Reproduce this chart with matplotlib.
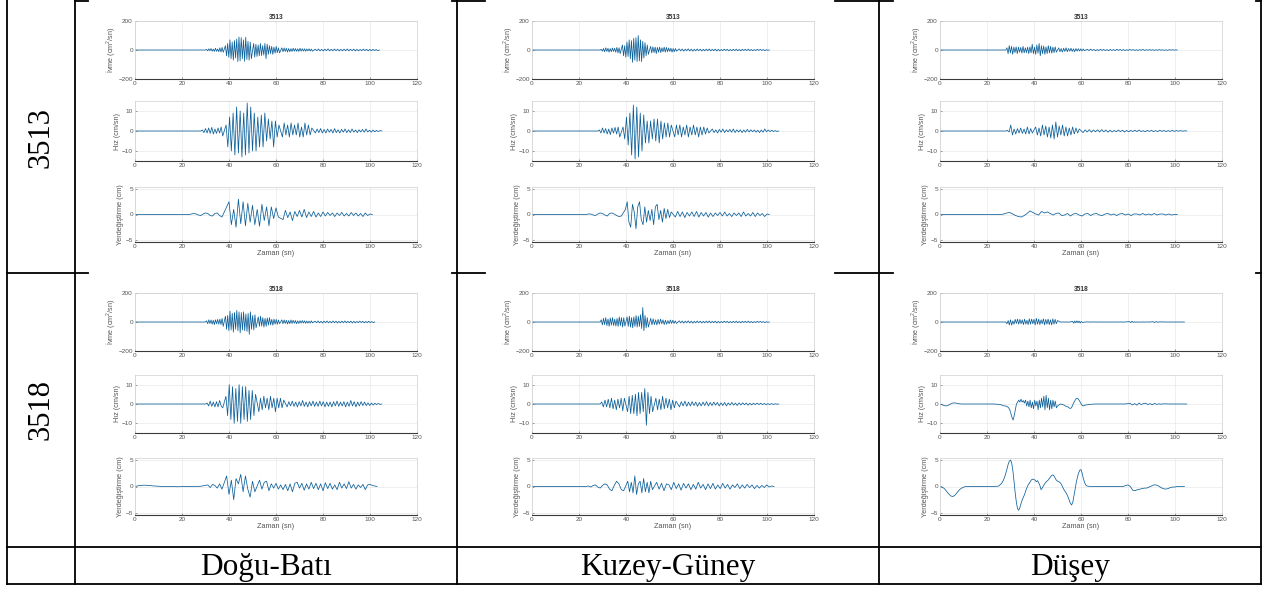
import matplotlib
matplotlib.use("Agg")
import matplotlib.pyplot as plt

plt.rcParams['font.family'] = ['Liberation Sans', 'DejaVu Sans']
plt.rcParams['mathtext.fontset'] = 'custom'
plt.rcParams['mathtext.rm'] = 'Liberation Sans'

# table labels
stations = ["3513", "3518"]
components = ["Doğu-Batı", "Kuzey-Güney", "Düşey"]
x_ticks = [0, 20, 40, 60, 80, 100, 120]
y_labels = ["İvme (cm$^2$/sn)", "Hız (cm/sn)", "Yerdeğiştirme (cm)"]
y_ticks = [[-200, 0, 200], [-10, 0, 10], [-5, 0, 5]]
y_lims = [200, 15, 5.4]

# each trace = list of (t_start, t_end, evenly spaced inside)
# ---------------- 3513 ----------------
acc_db_3513 = [
    (30, 38, [4,-6,8,-5,10,-8,6,-10,12,-9,7,-12,15,-14,18,-16]),
    (38, 50, [30,-40,45,-50,70,-60,55,-70,65,-55,75,-80,90,-75,85,-60,70,-78,88,-65,60,-70,55,-60]),
    (50, 62, [45,-50,40,-45,35,-40,45,-38,30,-35,45,-60,40,-30,30,-25,25,-30,20,-22,25,-18,15,-20]),
    (62, 76, [15,-12,14,-10,12,-14,10,-12,9,-10,12,-8,10,-9,8,-10,12,-8,9,-7,8,-9,7,-6,8,-7,6,-8]),
    (76, 104, [6,-5,7,-6,5,-7,6,-5,8,-6,5,-6,7,-5,6,-7,5,-6,6,-5,7,-6,5,-5,6,-7,5,-6,4,-5,6,-4,5,-6,4,-5,5,-4,3,-4]),
]
vel_db_3513 = [
    (28, 38, [0.5,-0.8,1.2,-1,1.5,-1.2,1.8,-1.5,1,-1.2,1.5,-1,2,-2.5]),
    (38, 62, [3,-8,7,-10,9,-12,12,-11,10,-13,9,-12,14,-11,12,-10,9,-10,7,-8,8,-8,9,-5,6,-4,5,-8,5,-3,3]),
    (62, 76, [-3,4,-2,3,-3,4,-2,3,-2,4,-3,2,-3,4,-2,3,-2,1.5]),
    (76, 105, [-1,1,-0.8,1.2,-1,0.8,-1,1,-0.6,0.8,-1,1.2,-0.8,0.6,-1,0.8,-0.6,1,-0.8,0.6,-0.8,1,-0.6,0.5,
               -0.8,0.6,-0.5,0.8,-0.6,1,-0.5,0.4,-0.6,0.5,-0.4,0.3,-0.3,0.2]),
]
disp_db_3513 = [
    (23, 38, [0.1,0.2,0.1,-0.1,-0.2,0.1,0.3,0.2,-0.2,-0.3,0.2,0.3,-0.2,-0.5]),
    (38, 62, [1.5,2.5,-2,1,-2.5,3,-1.8,2.5,-2.2,2.2,-1.5,1.8,-2,1,-2.3,2,-1.2,1.5,-2.2,1.5,-0.8,1.3,-0.5]),
    (62, 101, [-1,0.8,-0.6,0.5,-1.2,0.6,-0.4,0.8,-0.5,1,-0.6,0.5,-0.4,0.6,-0.5,0.3,-0.4,0.5,-0.3,0.4,-0.2,0.3,
               -0.4,0.3,-0.2,0.4,-0.3,0.2,-0.3,0.4,-0.2,0.3,-0.3,0.2,-0.4,0.3,-0.2,0.1]),
]
acc_kg_3513 = [
    (29, 38, [5,-8,10,-12,15,-10,12,-15,10,-12,14,-10,12,-15,18,-20,15,-25]),
    (38, 50, [35,-40,30,-50,55,-45,70,-60,65,-85,80,-70,85,-80,100,-75,70,-80,60,-55,50,-40,35,-30]),
    (50, 62, [25,-20,22,-18,20,-25,18,-15,20,-18,15,-12,20,-15,18,-12,14,-10,12,-15,10,-12,10,-8]),
    (62, 101, [8,-6,7,-8,6,-5,8,-7,6,-8,5,-6,7,-5,6,-7,5,-6,6,-5,7,-6,5,-5,6,-7,5,-6,4,-5,6,-4,5,-6,4,-5,
               5,-4,6,-5,4,-6,5,-4,5,-4,6,-5,4,-5,3,-4,5,-3,4,-3,3,-4,2,-2]),
]
vel_kg_3513 = [
    (28, 38, [0.5,-1,1.5,-1,1.2,-1.5,1,-1.8,1.5,-1,1.8,-1.5,2,-3]),
    (38, 60, [2,-4,7,-7,9,-12,13,-14,12,-13,9,-10,8,-6,5,-6,5,-4,6,-5,6,-6,5,-4,4,-3,4,-3,3]),
    (60, 76, [-3,3,-2,3,-3,2,-2,3,-3,2,-2,3,-2,2,-3,2,-2,2,-1.5,1.5,-1]),
    (76, 105, [1,-0.8,0.6,-1,0.8,-0.6,1,-0.8,0.6,-0.5,0.8,-0.6,1,-0.8,0.6,-0.5,0.6,-0.8,0.5,-0.6,0.8,-0.5,
               0.6,-0.4,0.5,-0.6,0.4,-0.8,0.5,-0.6,1,-0.4,0.5,-0.3,0.4,-0.3,0.2,-0.2]),
]
disp_kg_3513 = [
    (23, 39, [0.1,0.1,-0.1,-0.2,0.1,0.3,0.2,-0.1,-0.3,0.2,0.3,0.1,-0.2,-0.4,-0.3]),
    (39, 60, [1,2.5,-1.5,-2.5,2,0.5,-2.8,1.5,2.5,-1,-2,1.5,-1.5,0.8,-1.2,1,-2,1.5,2,-1,0.8,-1.5,1.2,-0.8,1,-0.6,0.5]),
    (60, 101, [-0.5,0.6,-0.4,0.5,-0.6,0.4,-0.3,0.5,-0.4,0.6,-0.5,0.4,-0.3,0.4,-0.5,0.3,-0.4,0.3,-0.2,0.4,
               -0.3,0.5,-0.3,0.2,-0.4,0.3,-0.2,0.3,-0.4,0.5,-0.3,0.2,-0.3,0.4,-0.4,0.3,-0.2,0.2,-0.4,0.1]),
]
acc_dy_3513 = [
    (28, 50, [15,-25,30,-20,25,-30,20,-18,22,-25,20,-15,18,-22,25,-20,15,-18,20,-25,22,-20,40,-25,20,-30,
              35,-22,45,-40,30,-25,28,-30,22,-25,30,-20,25,-22,20,-18,22,-15]),
    (50, 62, [15,-12,10,-14,12,-10,15,-12,10,-8,12,-10,8,-12,10,-8,9,-7,8,-6,7,-5]),
    (62, 101, [5,-4,6,-3,4,-5,3,-4,5,-3,4,-4,3,-5,4,-3,3,-4,5,-3,4,-3,3,-4,2,-3,4,-2,3,-3,2,-3,3,-2,4,-3,
               2,-2,3,-2,2,-3,2,-2,3,-2,2,-2,1,-2,2,-1,2,-1,1]),
]
vel_dy_3513 = [
    (28, 40, [0.3,-0.5,3,-2,1,-1.5,1.2,-1,1.5,-1.2,1,-1.5,2,-1.5,1.2,-1]),
    (40, 60, [2,-2,1.5,-2.5,3,-2,2.5,-3,2,-3.5,3,-4,4.5,-3,2.5,-2,3,-2.5,2,-2.5,1.5,-2,2,-1.5,1.5,-1,1]),
    (60, 105, [-0.8,0.6,-0.5,0.7,-0.6,0.5,-0.4,0.6,-0.5,0.7,-0.4,0.5,-0.6,0.4,-0.5,0.3,-0.4,0.5,-0.3,0.4,
               -0.5,0.3,-0.4,0.3,-0.3,0.4,-0.3,0.5,-0.3,0.2,-0.4,0.3,-0.2,0.3,-0.3,0.2,-0.3,0.4,-0.2,0.3,
               -0.3,0.2,-0.2,0.3,-0.2,0.2,-0.1,0.2,-0.1,0.1]),
]
disp_dy_3513 = [
    (26, 101, [0.1,0.3,0.4,0.1,-0.2,-0.4,-0.5,-0.2,0.2,0.7,0.4,0.1,-0.1,0.6,0.3,0.5,0.2,-0.1,0.2,0.3,
               -0.2,-0.1,0.2,-0.3,0.1,0.2,-0.1,-0.3,0.1,0.2,-0.2,0.1,0.2,-0.1,-0.2,0.1,0.2,-0.1,0.1,-0.2,
               0.1,0.2,-0.1,0.1,-0.2,0.1,0.1,-0.1,0.2,-0.1,0.1,-0.1,0.2,-0.1,0.1,0.1,-0.1,0.1,-0.1,0.0]),
]

# ---------------- 3518 ----------------
acc_db_3518 = [
    (30, 38, [8,-12,15,-10,14,-15,12,-18,15,-12,18,-15,20,-18,25,-30]),
    (38, 52, [40,-50,45,-60,75,-55,60,-70,65,-50,80,-60,70,-75,65,-55,70,-60,55,-65,60,-85,70,-50,45,-55,50,-40]),
    (52, 62, [35,-30,40,-28,30,-35,25,-30,28,-22,30,-20,18,-22,20,-15,18,-16,14,-12]),
    (62, 76, [15,-12,14,-10,12,-14,10,-12,14,-10,12,-8,10,-12,8,-10,9,-8,10,-7,8,-9,7,-8,6,-7,8,-6]),
    (76, 102, [6,-5,7,-6,5,-7,6,-5,7,-6,5,-6,7,-5,6,-7,5,-6,6,-5,7,-6,5,-5,6,-7,5,-6,4,-5,6,-4,5,-6,4,-5,5,-4,3,-4]),
]
vel_db_3518 = [
    (30, 38, [0.5,-1,1.5,-1.2,1,-1.5,1.2,-1.5,1.8,-1,-2]),
    (38, 52, [4,-6,10,-8,9,-10,8,-9,10,-10,9,-8,9,-9,7,-8,7,-6,5]),
    (52, 64, [-4,3,-3,4,-2,3,-3,4,-2,3,-4,3,-2,3,-2,2]),
    (64, 105, [-1.5,1.2,-1,1.5,-1.2,1,-1.5,1.2,-1,1.8,-1.2,1,-1.5,1.2,-1,1.5,-1.2,1,-1.2,1.5,-1,1.2,-1.5,1,
               -1.2,1,-1.5,1.2,-1,1.5,-1.2,1,-1,1.2,-1.5,1,-1.2,1.8,-1,1.2,-1.5,1,-1,1.2,-0.8,1,-0.8,0.6,
               -0.8,0.5,-0.5,0.4,-0.3,0.3,-0.2]),
]
disp_db_3518 = [
    (0, 30, [0.2,0.25,0.2,0.1,0.05,0,0,0,-0.05,0,0,0,0,0.05]),
    (30, 38, [0.3,-0.2,0.4,0.2,-0.3,0.5,-0.5]),
    (38, 52, [2,-1.5,1.2,-2.5,1.5,0.5,2.3,-1,2,-0.5,-2,1,-1]),
    (52, 103, [1.2,-0.5,0.8,1,-0.8,0.5,-0.3,0.6,-0.5,0.3,-0.6,0.4,-0.8,0.5,-1,0.6,0.8,-0.3,0.6,-0.7,0.5,-0.5,
               0.8,-0.4,0.6,-0.6,0.5,-0.8,0.7,-0.4,0.6,-0.5,0.3,-0.6,0.8,-0.3,0.5,-0.4,0.9,-0.3,0.4,-0.5,
               0.3,-0.2,0.4,-0.6,0.3,0.4,0.2,0.1]),
]
acc_kg_3518 = [
    (29, 40, [15,-20,25,-18,30,-25,20,-30,28,-22,30,-25,20,-28,25,-30,35,-25,30,-35,30,-28]),
    (40, 50, [35,-30,40,-35,30,-40,35,-30,45,-35,40,-30,50,-45,100,-60,45,-40,30,-35]),
    (50, 62, [25,-20,22,-18,15,-20,18,-15,20,-12,15,-18,12,-15,10,-12,14,-10,12,-10,8,-10]),
    (62, 101, [8,-6,7,-8,6,-5,8,-7,6,-8,5,-6,7,-5,6,-7,5,-6,6,-5,7,-6,5,-5,6,-7,5,-6,4,-5,6,-4,5,-6,4,-5,
               5,-4,6,-5,4,-6,5,-4,5,-4,6,-5,4,-5,3,-4,5,-3,4,-3,3,-4,2,-2]),
]
vel_kg_3518 = [
    (29, 40, [1,-1.5,2,-1.5,2.5,-2,3,-2.5,2,-3,2.5,-2,3,-3.5,3]),
    (40, 52, [-4,4,-5,4.5,-5,5,-6,6,-5,6,-4,8,-11,6,-5,4,-4]),
    (52, 62, [3,-3,2.5,-3,4,-2.5,3,-2,2.5,-3,2,-2,1.5]),
    (62, 105, [-1.5,1.2,-1,1.5,-1.2,1,-1,1.2,-0.8,1,-1.2,0.8,-1,1,-0.8,1.2,-1,0.8,-0.8,1,-0.6,0.8,-1,0.6,
               -0.8,0.8,-1,0.6,-0.6,0.8,-0.6,0.5,-0.8,0.6,-0.5,0.6,-0.4,0.5,-0.6,0.4,-0.5,0.4,-0.3,0.5,
               -0.3,0.4,-0.3,0.3,-0.4,0.2,-0.3,0.2,-0.2,0.1,-0.1]),
]
disp_kg_3518 = [
    (23, 40, [0.1,-0.1,0.2,0.3,-0.1,-0.3,0.2,0.5,0.3,-0.5,-0.8,0.2,1,0.5,-0.6,-0.8]),
    (40, 52, [1,-1,0.8,-1.2,2,-1.5,0.5,1,-1.2,1.5,-1,0.8,-1.2,1,-0.6]),
    (52, 103, [0.8,-0.5,0.6,-0.8,0.5,0.3,-0.6,0.8,-0.4,0.5,-0.7,0.6,-0.3,0.5,-0.6,0.4,-0.5,0.8,-0.3,0.4,
               -0.6,0.5,-0.4,0.6,-0.5,0.3,-0.4,0.6,-0.3,0.4,-0.5,0.3,-0.2,0.5,-0.4,0.3,-0.3,0.4,-0.2,0.3,
               -0.4,0.2,-0.3,0.2,-0.2,0.3,-0.1,0.1]),
]
acc_dy_3518 = [
    (28, 50.5, [-12,10,-20,15,-22,8,-15,18,-10,20,-15,18,-12,15,-18,20,-15,12,-18,22,-15,20,-12,18,-20,25,
                -15,20,-18,15,-12,22,-20,18,-15,20,-18,15,-20,22,-15,18,-12,10]),
    (50.5, 56, [1,-1,0.5,-0.5,0.5,-0.5,0.3,-0.3]),
    (56, 61, [5,-8,7,-6,8,-5,6,-7,4,-3]),
    (61, 80, [1,-0.5,0.5,-0.3,0.3,-0.3,0.2,-0.2,0.2,-0.2,0.2,-0.2]),
    (80, 85, [3,-4,5,-3,2,-2,1,-1]),
    (85, 90, [0.3,-0.3,0.3,-0.3]),
    (90, 94, [2,-3,3,-2,1]),
    (94, 104, [0.3,-0.3,0.2,-0.2,0.2,-0.1]),
]
vel_dy_3518 = [
    (0, 10, [-0.3,-0.8,-1,-0.8,-0.2,0.3,0.6,0.5,0.3,0.1,0]),
    (10, 25, [0,0,0,0,0]),
    (25, 33, [-0.2,-0.4,-0.6,-0.8,-1,-1,-1.2,-1.5,-2,-3,-5,-7,-8.3,-6,-3,0]),
    (33, 50.5, [2,1,2.5,1,1.8,0.5,2,-1,1.5,-1.5,2,-2,1,-2.5,2,-1,1.5,-3,2,-2,3,-1.5,4,-3,4.5,-2,3,-3,2,
                -2.5,2,-1.5,1.5,-2,-1]),
    (50.5, 54, [0,-0.2,-0.5,-1]),
    (54, 62, [-1.5,-2,-2.3,-2,-1,0.5,1.5,2.5,3,2.8,2,1,0,-0.8,-1,-0.6]),
    (62, 80, [-0.3,-0.1,0,0,0,0,0,0,0,0,0,0]),
    (80, 96, [0.3,-0.5,0.2,-0.6,0.5,-0.3,0.2,0.4,-0.3,0.2,-0.4,0.3,-0.2,0.1,-0.1,0.1]),
    (96, 105, [0,0,0,0]),
]
disp_dy_3518 = [
    (0, 12, [-0.1,-0.4,-0.9,-1.4,-1.8,-1.9,-1.6,-1.1,-0.6,-0.3,-0.1,0]),
    (12, 24, [0,0,0,0,0]),
    (24, 40, [0.05,0.1,0.3,0.5,0.8,1.2,1.8,2.5,3.3,4.2,4.8,5,4.5,3,1,-1.2,-3,-4.2,-4.5,-4,-3.2,-2.5,-2,
              -1.5,-0.8,-0.2,0.3,0.6,1,1.3,1.4]),
    (40, 63, [1.2,0.9,1.1,0.7,0.2,-0.6,-0.3,0.1,0.5,0.8,1,1.2,1.5,1.8,2.1,2.2,2,1.6,1.2,1,0.9,0.8,0.5,0.1,
              -0.4,-0.8,-1.1,-1.5,-2,-2.6,-3.2,-3.5,-3,-1.8,-0.5,0.8,1.8,2.6,3.1,3.2,2.5,1.5,0.8,0.3,0.1]),
    (63, 104, [0,0,0,0,0,0,0,0,0,0,0,0,0,0,0,0.2,0.3,0,-0.7,-0.8,-0.6,-0.5,-0.4,-0.3,-0.3,-0.1,0.1,0.3,
               0.3,0.1,-0.2,-0.4,-0.5,-0.4,-0.2,-0.1,-0.1,0,0,0]),
]

traces = {
    ("3513", 0): [acc_db_3513, vel_db_3513, disp_db_3513],
    ("3513", 1): [acc_kg_3513, vel_kg_3513, disp_kg_3513],
    ("3513", 2): [acc_dy_3513, vel_dy_3513, disp_dy_3513],
    ("3518", 0): [acc_db_3518, vel_db_3518, disp_db_3518],
    ("3518", 1): [acc_kg_3518, vel_kg_3518, disp_kg_3518],
    ("3518", 2): [acc_dy_3518, vel_dy_3518, disp_dy_3518],
}


def build(segs):
    # zero until onset, values spaced evenly within each segment, zero at the end
    t, v = [0.0], [0.0]
    if segs[0][0] > 0:
        t.append(segs[0][0])
        v.append(0.0)
    for a, b, vals in segs:
        n = len(vals)
        for i, y in enumerate(vals):
            t.append(a + (b - a) * (i + 1) / (n + 1))
            v.append(y)
    t.append(segs[-1][1])
    v.append(0.0)
    return t, v


W, H = 1275, 592
fig = plt.figure(figsize=(W / 100, H / 100), dpi=100)

# table background: lines and text (pixel coordinates)
bg = fig.add_axes([0, 0, 1, 1])
bg.set_xlim(0, W)
bg.set_ylim(H, 0)
bg.axis('off')
lk = dict(color='black', lw=1.3, solid_capstyle='projecting')
for x in [7, 75, 457, 879, 1261]:
    bg.plot([x, x], [0, 584], **lk)
for y in [547, 584]:
    bg.plot([7, 1261], [y, y], **lk)
for x0, x1 in [(7, 88), (452, 485), (835, 893), (1256, 1261)]:
    bg.plot([x0, x1], [273, 273], **lk)
for x0, x1 in [(75, 88), (452, 485), (835, 893), (1256, 1261)]:
    bg.plot([x0, x1], [1, 1], **lk)

serif = ['Liberation Serif', 'DejaVu Serif']
for s, yc in zip(stations, [137, 410]):
    bg.text(41, yc, s, rotation=90, ha='center', va='center', fontsize=22, family=serif)
for c, xc in zip(components, [266, 668, 1070]):
    bg.text(xc, 567, c, ha='center', va='center', fontsize=22.5, family=serif)

col_left = [135, 532, 940]
ax_w = 282
row_boxes = [[(21, 79), (101, 161), (187, 242)],
             [(293, 351), (375, 433), (458, 515)]]

for si, s in enumerate(stations):
    for ci in range(3):
        for k in range(3):
            top, bot = row_boxes[si][k]
            ax = fig.add_axes([col_left[ci] / W, 1 - bot / H, ax_w / W, (bot - top) / H])
            t, v = build(traces[(s, ci)][k])
            ax.plot(t, v, color='#0a5f9a', lw=0.55)
            ax.set_xlim(0, 120)
            ax.set_ylim(-y_lims[k], y_lims[k])
            ax.set_xticks(x_ticks)
            ax.set_yticks(y_ticks[k])
            ax.grid(True, color='#e4e4e4', lw=0.4)
            ax.set_axisbelow(True)
            ax.tick_params(labelsize=4.6, length=1.5, width=0.4, direction='in', pad=1.5,
                           colors='#555555')
            for side in ['top', 'right', 'left']:
                ax.spines[side].set_color('#cfcfcf')
                ax.spines[side].set_linewidth(0.5)
            ax.spines['bottom'].set_color('#3a3a3a')
            ax.spines['bottom'].set_linewidth(0.8)
            ax.set_ylabel(y_labels[k], fontsize=5.2, color='#555555', labelpad=1)
            if k == 0:
                ax.set_title(s, fontsize=4.8, fontweight='bold', color='#333333', pad=1.5)
            if k == 2:
                ax.set_xlabel("Zaman (sn)", fontsize=5.2, color='#555555', labelpad=0.5)

fig.savefig("out.png", dpi=100, facecolor='white')
